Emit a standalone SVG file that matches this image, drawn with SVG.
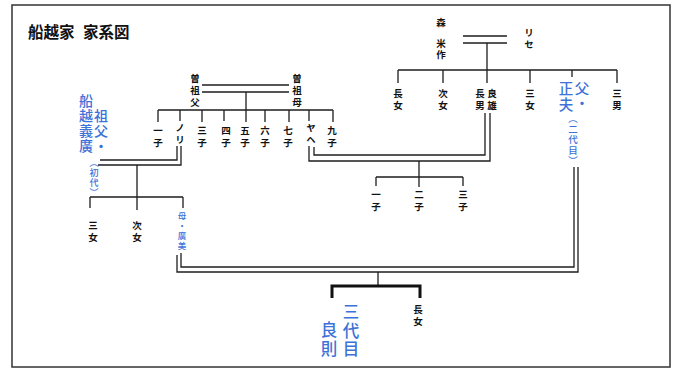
<svg xmlns="http://www.w3.org/2000/svg" width="679" height="370" viewBox="0 0 679 370">
<style>
.ln{fill:none;stroke:#1e1e1e;stroke-width:1.3}
.th{fill:none;stroke:#111;stroke-width:3}
.k{font-family:"Noto Sans CJK JP","Noto Sans",sans-serif;font-weight:700;font-size:9.5px;letter-spacing:2.5px;fill:#111;writing-mode:vertical-rl;text-anchor:start}
.b{font-family:"Noto Sans CJK JP","Noto Sans",sans-serif;font-weight:500;fill:#3d72d8;writing-mode:vertical-rl;text-anchor:start}
.t{font-family:"Noto Sans CJK JP","Noto Sans",sans-serif;font-weight:700;font-size:15.5px;fill:#111}
</style>
<rect x="0" y="0" width="679" height="370" fill="#fff"/>
<rect x="12" y="5" width="658" height="362" fill="#fff" stroke="#333" stroke-width="1.5"/>
<text class="t" x="28" y="38">船越家</text>
<text class="t" x="83" y="38">家系図</text>

<g id="connectors">
  <path class="ln" d="M463,36H507M463,43H507M487,43V70M398,70H617M398,70V83M443,70V83M487,70V83M530,70V83M572,70V77M617,70V83"/>
  <path class="ln" d="M202,85H289M202,92H289M246,92V110M158,110H333M158,110V122M180,110V121M202,110V122M224,110V121M246,110V122M265,110V122M289,110V122M309,110V121M333,110V122"/>
  <path class="ln" d="M177,146V160H100M181,146V165H98"/>
  <path class="ln" d="M137,165V197M90,197H183M90,197V208M137,197V210M183,197V208"/>
  <path class="ln" d="M314,147V155H485V113M309,146V161H490V113"/>
  <path class="ln" d="M419,161V177M376,177H463M376,177V186M419,177V187M463,177V186"/>
  <path class="ln" d="M574,167V267H181V253M578,167V272H177V255"/>
  <path class="ln" d="M378,272V286"/>
  <path class="th" d="M332,298V286H420V298"/>
</g>

<g id="mori-yonesaku"><text class="k" x="441" y="17.25">森</text><text class="k" x="441" y="38.25" style="letter-spacing:1.5px">米作</text></g>
<g id="rise"><text class="k" x="529" y="27.25">リセ</text></g>
<g id="m-chojo"><text class="k" x="398" y="88.25">長女</text></g>
<g id="m-jijo"><text class="k" x="443" y="88.25">次女</text></g>
<g id="m-yoshio"><text class="k" x="480" y="88.25">長男</text><text class="k" x="492" y="88.25">良雄</text></g>
<g id="m-sanjo"><text class="k" x="530" y="88.25">三女</text></g>
<g id="masao"><text class="b" x="566" y="80.75" font-size="14.5" letter-spacing="1.5">正夫</text><text class="b" x="582" y="80.75" font-size="14.5" letter-spacing="0.5">父・</text>
<text class="b" x="573" y="114" font-size="9.5" letter-spacing="1">（二代目）</text></g>
<g id="m-sannan"><text class="k" x="617" y="88.25">三男</text></g>

<g id="sosofu"><text class="k" x="195" y="73.25">曽祖父</text></g>
<g id="sosobo"><text class="k" x="297" y="73.25">曽祖母</text></g>
<g id="s1"><text class="k" x="158" y="125.25">一子</text></g>
<g id="nori"><text class="k" x="180" y="122.25">ノリ</text></g>
<g id="s3"><text class="k" x="202" y="125.25">三子</text></g>
<g id="s4"><text class="k" x="226" y="125.25">四子</text></g>
<g id="s5"><text class="k" x="245" y="125.25">五子</text></g>
<g id="s6"><text class="k" x="265" y="125.25">六子</text></g>
<g id="s7"><text class="k" x="288" y="125.25">七子</text></g>
<g id="yahe"><text class="k" x="311" y="122.25">ヤヘ</text></g>
<g id="s9"><text class="k" x="332" y="125.25">九子</text></g>

<g id="yoshihiro"><text class="b" x="86" y="94" font-size="14" letter-spacing="1">船越義廣</text><text class="b" x="101" y="109" font-size="14" letter-spacing="1">祖父・</text>
<text class="b" x="94" y="158.5" font-size="9" letter-spacing="1">（初代）</text></g>

<g id="n-sanjo"><text class="k" x="93" y="220.25">三女</text></g>
<g id="n-jijo"><text class="k" x="137" y="220.25">次女</text></g>
<g id="hiromi"><text class="b" x="182" y="211.75" font-size="8.5" letter-spacing="1.5">母・廣美</text></g>

<g id="y1"><text class="k" x="376" y="189.25">一子</text></g>
<g id="y2"><text class="k" x="419" y="189.25">二子</text></g>
<g id="y3"><text class="k" x="463" y="189.25">三子</text></g>

<g id="yoshinori"><text class="b" x="351" y="303.75" font-size="16.5" letter-spacing="2">三代目</text><text class="b" x="329" y="321.75" font-size="16.5" letter-spacing="2">良則</text></g>
<g id="last-chojo"><text class="k" x="418" y="304.25">長女</text></g>
</svg>
